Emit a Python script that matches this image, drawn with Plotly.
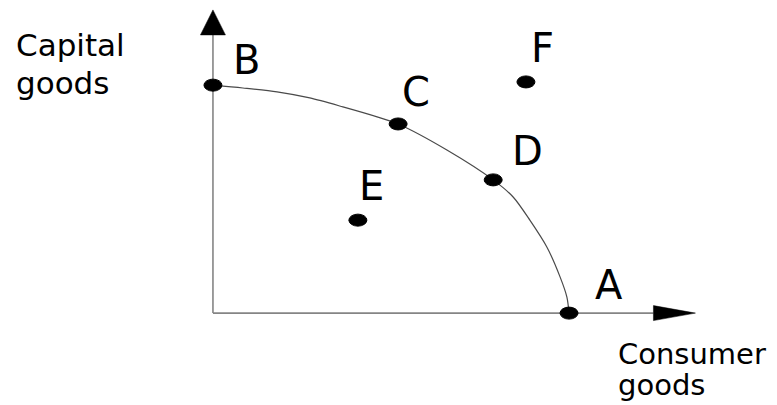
import plotly.graph_objects as go

# ---- data (arbitrary units; consumer goods on x, capital goods on y) ----
point_labels = ["B", "C", "D", "A", "E", "F"]
consumer = [0.0, 5.20, 7.87, 10.0, 4.07, 8.79]
capital = [6.40, 5.31, 3.74, 0.0, 2.61, 6.49]
# label offsets in pixels (dx right, dy up)
label_dx = [34, 18, 34, 40, 14, 17]
label_dy = [25, 32, 29, 28, 34, 34]

frontier_x = [0.0, 0.84, 1.80, 2.72, 3.65, 4.61, 5.20, 6.57, 7.87, 8.43, 8.90, 9.38, 9.75, 9.94, 10.0]
frontier_y = [6.40, 6.32, 6.21, 6.04, 5.79, 5.51, 5.31, 4.58, 3.74, 3.26, 2.61, 1.85, 1.01, 0.45, 0.0]

x_title = ["Consumer", "goods"]
y_title = ["Capital", "goods"]

# axis extents
X_RANGE = [-5.98, 15.84]
Y_RANGE = [-2.58, 8.79]
X_AXIS_END = 12.37
Y_AXIS_END = 7.81

W, H = 777, 405
px_x = (X_RANGE[1] - X_RANGE[0]) / W  # data units per pixel
px_y = (Y_RANGE[1] - Y_RANGE[0]) / H

fig = go.Figure()

fig.add_trace(go.Scatter(
    x=frontier_x, y=frontier_y, mode="lines",
    line=dict(color="#4a4a4a", width=1.2, shape="spline", smoothing=0.8),
    hoverinfo="skip", showlegend=False))

shapes = []
# axes
shapes.append(dict(type="line", x0=0, y0=0, x1=0, y1=Y_AXIS_END, xref="x", yref="y",
                   line=dict(color="#858585", width=1.6), layer="below"))
shapes.append(dict(type="line", x0=0, y0=0, x1=X_AXIS_END, y1=0, xref="x", yref="y",
                   line=dict(color="#858585", width=1.6), layer="below"))
# arrowheads
vt = Y_AXIS_END + 25 * px_y
vw = 12.5 * px_x
shapes.append(dict(type="path", xref="x", yref="y",
                   path=f"M {-vw} {Y_AXIS_END} L {vw} {Y_AXIS_END} L 0 {vt} Z",
                   fillcolor="black", line=dict(color="black", width=0.5)))
ht = X_AXIS_END + 42 * px_x
hh = 7.5 * px_y
shapes.append(dict(type="path", xref="x", yref="y",
                   path=f"M {X_AXIS_END} {-hh} L {X_AXIS_END} {hh} L {ht} 0 Z",
                   fillcolor="black", line=dict(color="black", width=0.5)))
# points as ellipses
for x, y in zip(consumer, capital):
    shapes.append(dict(type="circle", xref="x", yref="y",
                       xsizemode="pixel", ysizemode="pixel",
                       xanchor=x, yanchor=y, x0=-9, x1=9, y0=-6, y1=6,
                       fillcolor="black", line=dict(color="black", width=1)))

annotations = []
for lab, x, y, dx, dy in zip(point_labels, consumer, capital, label_dx, label_dy):
    annotations.append(dict(x=x, y=y, xref="x", yref="y", text=lab, showarrow=False,
                            xshift=dx, yshift=dy,
                            font=dict(family="DejaVu Sans", size=40, color="black")))

def title_line(text, xp, yp, size):
    return dict(x=xp / W, y=1 - yp / H, xref="paper", yref="paper", text=text,
                showarrow=False, xanchor="left", yanchor="middle",
                font=dict(family="DejaVu Sans", size=size, color="black"))

annotations.append(title_line(y_title[0], 14, 45, 31))
annotations.append(title_line(y_title[1], 14, 83, 31))
annotations.append(title_line(x_title[0], 616, 354, 29))
annotations.append(title_line(x_title[1], 616, 385, 29))

fig.update_layout(
    width=W, height=H, margin=dict(l=0, r=0, t=0, b=0),
    paper_bgcolor="white", plot_bgcolor="white",
    xaxis=dict(range=X_RANGE, visible=False, fixedrange=True),
    yaxis=dict(range=Y_RANGE, visible=False, fixedrange=True),
    shapes=shapes, annotations=annotations, showlegend=False)

fig.write_html("out.html", config={"displayModeBar": False},
               post_script="document.body.style.margin='0';document.body.style.overflow='hidden';")
